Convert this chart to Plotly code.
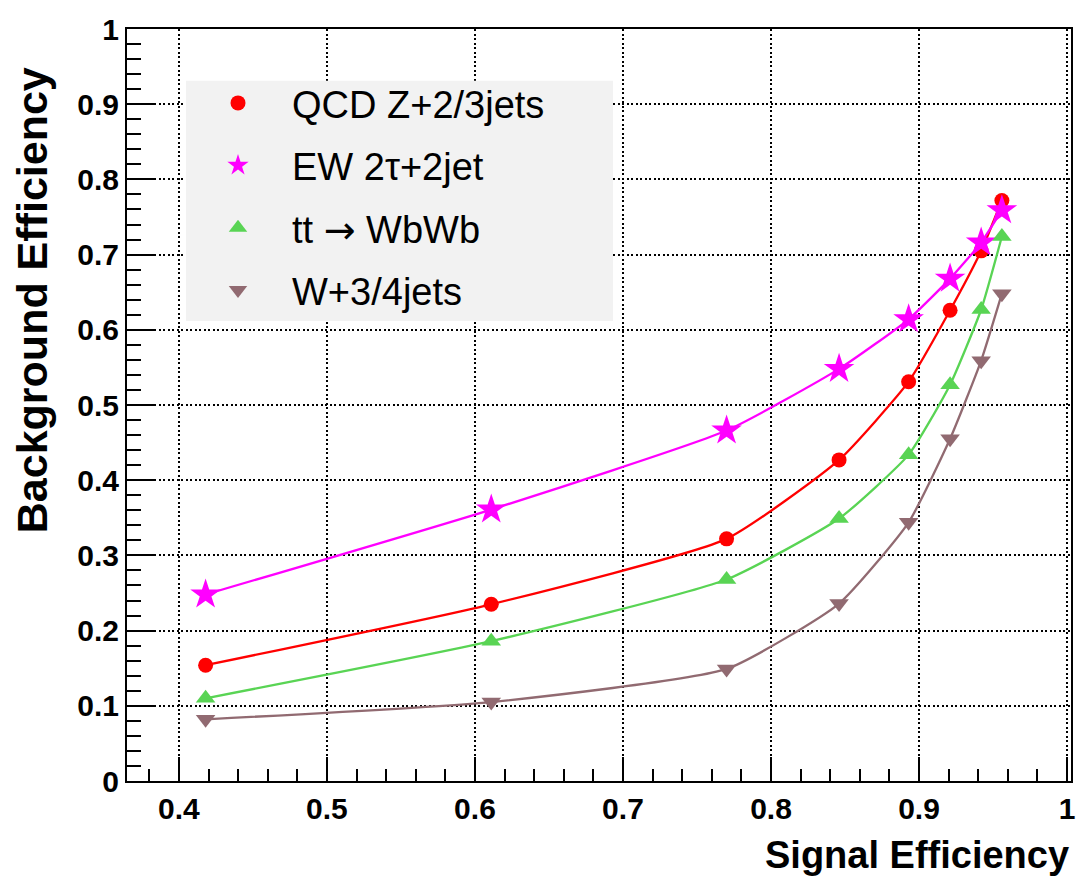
import plotly.graph_objects as go

# ---- data ----
signal_eff = [0.418, 0.611, 0.770, 0.846, 0.893, 0.921, 0.942, 0.956]
qcd_bkg = [0.154, 0.235, 0.322, 0.427, 0.531, 0.626, 0.705, 0.772]
ew_bkg = [0.248, 0.361, 0.466, 0.548, 0.614, 0.668, 0.716, 0.759]
tt_bkg = [0.110, 0.186, 0.268, 0.349, 0.434, 0.527, 0.627, 0.724]
w_bkg = [0.082, 0.105, 0.149, 0.236, 0.344, 0.455, 0.559, 0.648]

series_names = ["QCD Z+2/3jets", "EW 2\u03c4+2jet",
                "tt <span style=\"font-family:'DejaVu Sans'\">\u2192</span> WbWb",
                "W+3/4jets"]
series_values = [qcd_bkg, ew_bkg, tt_bkg, w_bkg]
series_colors = ["#ff0000", "#ff00ff", "#59d454", "#916a71"]
series_symbols = ["circle", "star", "triangle-up", "triangle-down"]
series_sizes = [15, 23, 17, 17]

x_ticks = [0.4, 0.5, 0.6, 0.7, 0.8, 0.9, 1.0]
x_ticklabels = ["0.4", "0.5", "0.6", "0.7", "0.8", "0.9", "1"]
y_ticks = [0, 0.1, 0.2, 0.3, 0.4, 0.5, 0.6, 0.7, 0.8, 0.9, 1.0]
y_ticklabels = ["0", "0.1", "0.2", "0.3", "0.4", "0.5", "0.6", "0.7", "0.8", "0.9", "1"]

FONT = "Liberation Sans, Arial, Helvetica, sans-serif"

fig = go.Figure()
for name, vals, col, sym, sz in zip(series_names, series_values, series_colors,
                                    series_symbols, series_sizes):
    fig.add_trace(go.Scatter(
        x=signal_eff, y=vals, mode="lines+markers", showlegend=False,
        line=dict(color=col, width=2.3, shape="spline", smoothing=0.5),
        marker=dict(color=col, symbol=sym, size=sz, line=dict(width=0)),
    ))
for i, (name, col, sym, sz) in enumerate(zip(series_names, series_colors,
                                            series_symbols, series_sizes)):
    fig.add_trace(go.Scatter(
        x=[None], y=[None], mode="markers", name=name, legendgroup=f"g{i}",
        marker=dict(color=col, symbol=sym, size=sz, line=dict(width=0)),
    ))

W, H = 1089, 879
ml, mr, mt, mb = 127, 18, 24, 98
pw = W - ml - mr
ph = H - mt - mb

def px_x(p):
    return (p - ml) / pw

def px_y(p):
    return 1 - (p - mt) / ph

axis_common = dict(
    showline=True, linecolor="black", linewidth=2, mirror=True,
    ticks="inside", tickcolor="black", tickwidth=2,
    showgrid=True, gridcolor="black", gridwidth=1.8, griddash="2px,2.5px",
    zeroline=False,
    tickfont=dict(family=FONT, size=30, color="black", weight="bold"),
)

fig.update_layout(
    width=W, height=H,
    margin=dict(l=ml, r=mr, t=mt, b=mb),
    paper_bgcolor="white", plot_bgcolor="white",
    showlegend=True,
    legend=dict(
        x=px_x(184), y=px_y(67), xanchor="left", yanchor="top",
        bgcolor="rgba(0,0,0,0)", borderwidth=0,
        font=dict(family=FONT, size=38, color="black"),
        itemsizing="trace", traceorder="grouped", tracegroupgap=10,
        itemwidth=98,
    ),
    xaxis=dict(
        range=[0.3649, 1.0027], tickvals=x_ticks, ticktext=x_ticklabels,
        ticklen=24,
        minor=dict(ticks="inside", dtick=0.02, tick0=0.0, ticklen=12,
                   tickwidth=2, tickcolor="black", showgrid=False),
        **axis_common,
    ),
    yaxis=dict(
        range=[0, 1], tickvals=y_ticks, ticktext=y_ticklabels,
        ticklen=28,
        minor=dict(ticks="inside", dtick=0.02, tick0=0.0, ticklen=14,
                   tickwidth=2, tickcolor="black", showgrid=False),
        **axis_common,
    ),
    shapes=[dict(
        type="rect", xref="paper", yref="paper",
        x0=px_x(186), x1=px_x(613), y0=px_y(318), y1=px_y(76),
        fillcolor="#f2f2f2", line=dict(width=0), layer="above",
    )],
    annotations=[
        dict(text="<b>Signal Efficiency</b>", xref="paper", yref="paper",
             x=px_x(1071), y=px_y(855), xanchor="right", yanchor="middle",
             showarrow=False, font=dict(family=FONT, size=38, color="black")),
        dict(text="<b>Background Efficiency</b>", xref="paper", yref="paper",
             x=px_x(32), y=px_y(297), xanchor="center", yanchor="middle",
             textangle=-90, showarrow=False,
             font=dict(family=FONT, size=43, color="black")),
    ],
)

fig.write_html("out.html")
